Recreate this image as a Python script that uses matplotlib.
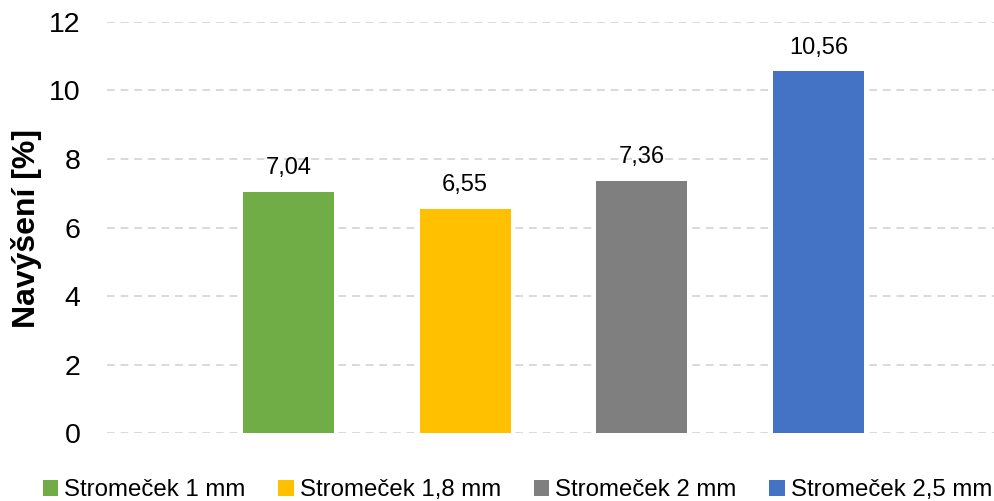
import matplotlib
matplotlib.use('Agg')
from matplotlib import pyplot as plt
from matplotlib.patches import Patch

labels = ['Stromeček 1 mm', 'Stromeček 1,8 mm', 'Stromeček 2 mm', 'Stromeček 2,5 mm']
values = [7.04, 6.55, 7.36, 10.56]
value_text = ['7,04', '6,55', '7,36', '10,56']
colors = ['#70AD47', '#FFC000', '#7F7F7F', '#4472C4']
yticks = [0, 2, 4, 6, 8, 10, 12]

plt.rcParams['font.family'] = ['Liberation Sans', 'DejaVu Sans']

fig = plt.figure(figsize=(9.95, 5.01), dpi=100)
ax = fig.add_axes([0.1075, 0.1357, 0.8925, 0.8204])

x = list(range(len(values)))
bars = ax.bar(x, values, width=0.515, color=colors, zorder=3)
for b, t in zip(bars, value_text):
    ax.annotate(t, (b.get_x() + b.get_width() / 2, b.get_height()),
                xytext=(0, 9), textcoords='offset points',
                ha='center', va='bottom', fontsize=17, color='#000000')

ax.set_xlim(-1.027, 3.998)
ax.set_ylim(0, 12)
ax.set_yticks(yticks)
ax.set_yticklabels([str(v) for v in yticks], fontsize=20.5)
ax.set_xticks([])
ax.tick_params(axis='y', length=0, pad=19)
for s in ax.spines.values():
    s.set_visible(False)
ax.yaxis.grid(True, color='#d9d9d9', linestyle=(0, (4, 3)), linewidth=1.4, zorder=0)
ax.set_axisbelow(True)

fig.text(0.027, 0.543, 'Navýšení [%]', rotation=90, ha='center', va='center',
         fontsize=23, fontweight='bold')

handles = [Patch(facecolor=c, label=l) for c, l in zip(colors, labels)]
fig.legend(handles=handles, loc='center', bbox_to_anchor=(0.52, 0.022), ncol=4,
           frameon=False, fontsize=17.3, handlelength=0.65, handleheight=0.65,
           handletextpad=0.25, columnspacing=1.35, borderpad=0)

fig.savefig('out.png', dpi=100)
